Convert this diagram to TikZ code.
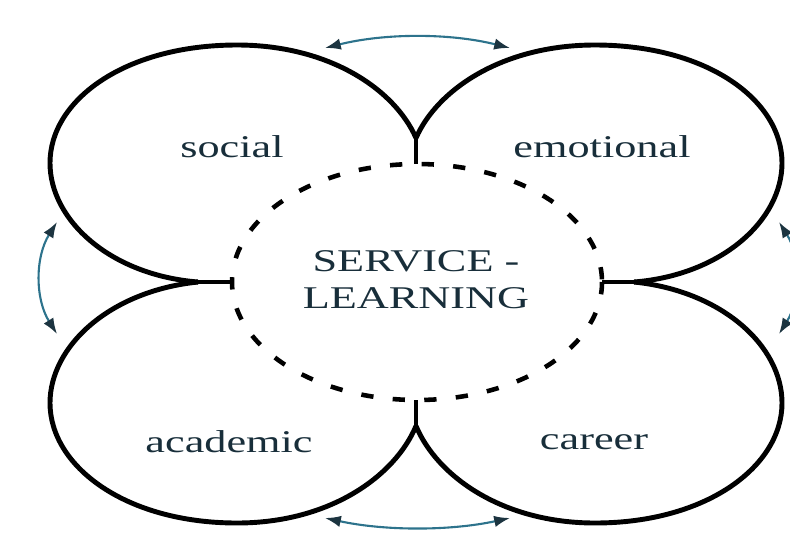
\documentclass[tikz,border=0pt]{standalone}
\usepackage{fontspec}
\setmainfont{Liberation Serif}
\usetikzlibrary{arrows.meta}

\definecolor{labelink}{RGB}{24,46,58}
\definecolor{linkblue}{RGB}{45,115,140}
\definecolor{linkhead}{RGB}{28,52,64}

\tikzset{
  petal/.style={line width=2.8pt, line join=round},
  hub/.style={line width=2.6pt, dash pattern=on 7pt off 11pt},
  area/.style={text=labelink, font=\fontsize{18}{21}\selectfont, xscale=1.4, align=center},
  link/.style={linkblue, line width=1.2pt,
    {Latex[length=9pt,width=6.5pt,color=linkhead]}-{Latex[length=9pt,width=6.5pt,color=linkhead]}},
}

\begin{document}
\begin{tikzpicture}[x=0.02cm, y=-0.02cm]
    \useasboundingbox (0,0) rectangle (790,538);
    \clip (0,0) rectangle (790,538);

    % Stem points where the petals meet
    \coordinate (top) at (416,138);
    \coordinate (bot) at (416,426);
    \coordinate (lft) at (198,282);
    \coordinate (rgt) at (634,282);

    % Petals
    \draw[petal] (top) .. controls (395,90) and (330,45) .. (237,45)
        .. controls (125,45) and (50,100) .. (50,163)
        .. controls (50,220) and (110,275) .. (lft);
    \draw[petal] (top) .. controls (437,90) and (502,45) .. (595,45)
        .. controls (707,45) and (782,100) .. (782,163)
        .. controls (782,220) and (722,275) .. (rgt);
    \draw[petal] (lft) .. controls (110,291) and (50,346) .. (50,403)
        .. controls (50,466) and (125,523) .. (237,523)
        .. controls (330,523) and (395,476) .. (bot);
    \draw[petal] (rgt) .. controls (722,291) and (782,346) .. (782,403)
        .. controls (782,466) and (707,523) .. (595,523)
        .. controls (502,523) and (437,476) .. (bot);

    % Centre
    \draw[hub] (417,282) ellipse [x radius=185, y radius=118];
    \coordinate (hub-n) at (416,164);
    \coordinate (hub-s) at (416,400);
    \coordinate (hub-w) at (232,282);
    \coordinate (hub-e) at (602,282);
    \draw[petal] (top) -- (hub-n);
    \draw[petal] (bot) -- (hub-s);
    \draw[petal] (lft) -- (hub-w);
    \draw[petal] (rgt) -- (hub-e);

    % Labels
    \node[area] (social) at (232,147) {social};
    \node[area] (emotional) at (602,147) {emotional};
    \node[area] (academic) at (229,442) {academic};
    \node[area] (career) at (594,442) {career};
    \node[area] (service) at (416,280) {SERVICE -\\LEARNING};

    % Links between neighbouring petals
    \coordinate (link-tl) at (325,48);
    \coordinate (link-tr) at (510,48);
    \coordinate (link-bl) at (325,518);
    \coordinate (link-br) at (510,518);
    \coordinate (link-lt) at (57,222);
    \coordinate (link-lb) at (57,334);
    \coordinate (link-rt) at (779,222);
    \coordinate (link-rb) at (779,334);
    \draw[link] (link-tl) .. controls +(60,-15) and +(-60,-15) .. (link-tr);
    \draw[link] (link-bl) .. controls +(60,13) and +(-60,13) .. (link-br);
    \draw[link] (link-lt) .. controls +(-22,35) and +(-22,-35) .. (link-lb);
    \draw[link] (link-rt) .. controls +(22,35) and +(22,-35) .. (link-rb);
\end{tikzpicture}
\end{document}
